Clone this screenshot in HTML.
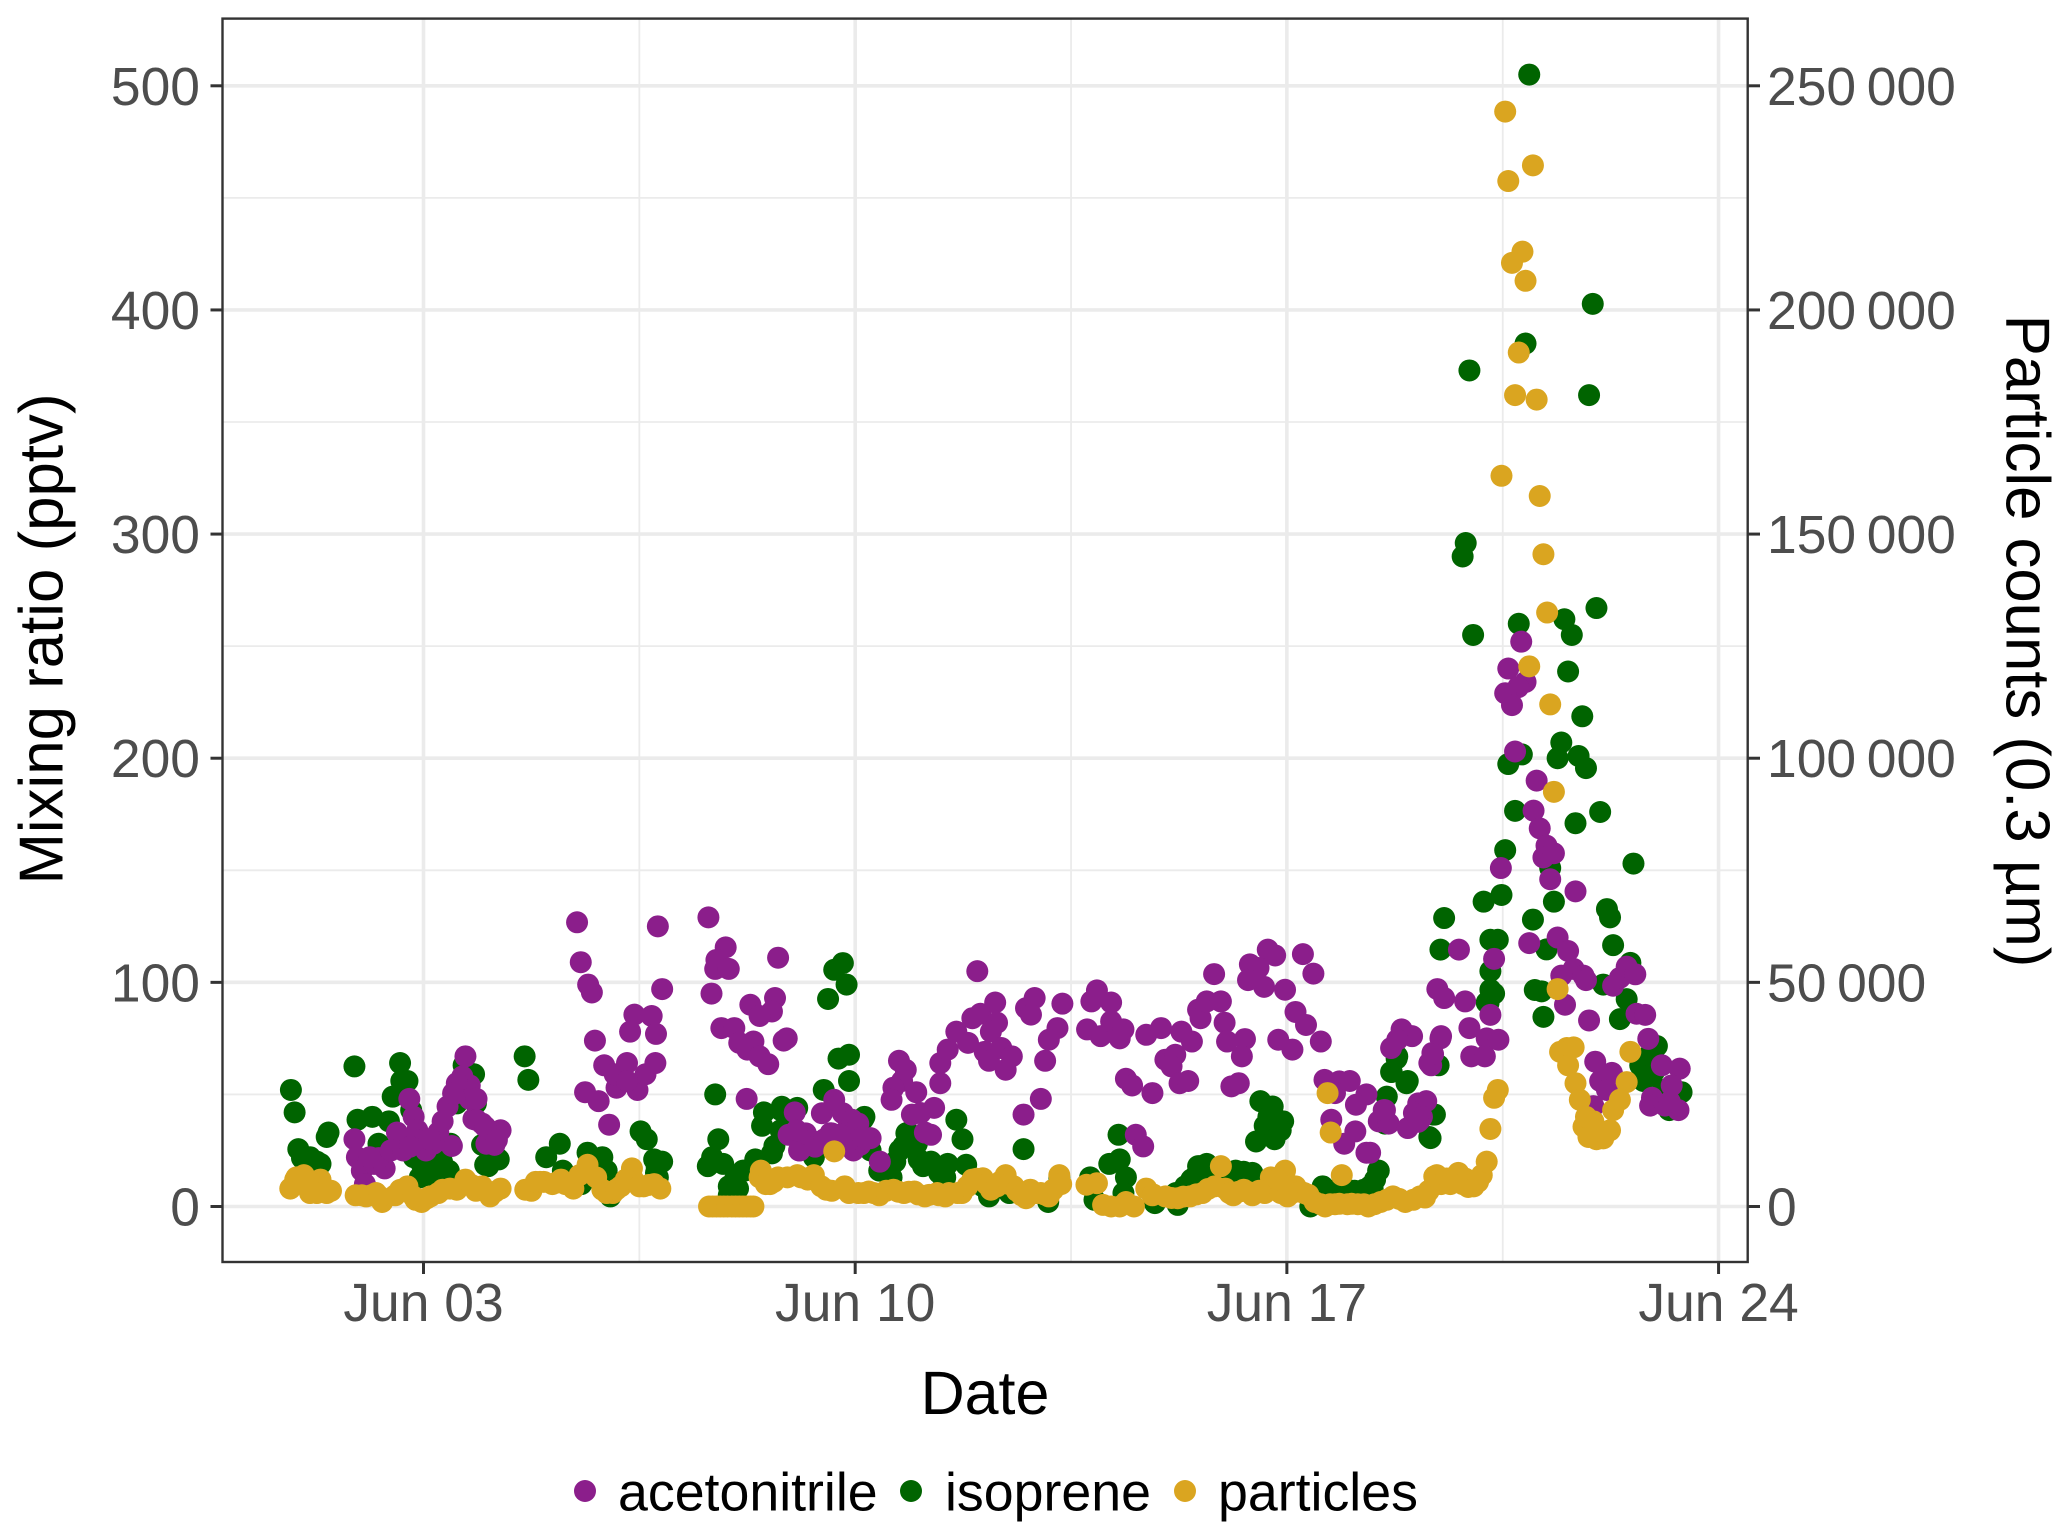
<!DOCTYPE html>
<html lang="en">
<head>
<meta charset="utf-8">
<title>Mixing ratio and particle counts</title>
<style>
html,body{margin:0;padding:0;background:#fff;}
svg{display:block;font-family:"Liberation Sans",Arial,sans-serif;}
</style>
</head>
<body>
<svg id="chart" xmlns="http://www.w3.org/2000/svg" width="2067" height="1539" viewBox="0 0 2067 1539">
<rect width="2067" height="1539" fill="#ffffff"/>
<g id="grid"></g>
<g id="series"></g>
<rect x="222.5" y="18.6" width="1525.2" height="1243.4" fill="none" stroke="#333333" stroke-width="2.4"/>
<g id="axes"></g>
<text x="985" y="1414" font-size="61" text-anchor="middle" fill="#000">Date</text>
<text transform="translate(62.7 639) rotate(-90)" font-size="61.8" text-anchor="middle" fill="#000">Mixing ratio (pptv)</text>
<text transform="translate(2006.6 641) rotate(90)" font-size="61.7" text-anchor="middle" fill="#000">Particle counts (0.3 µm)</text>
<g font-size="53.7" fill="#000">
<g><circle cx="585" cy="1491" r="11" fill="#8B1E8B"/><text x="618" y="1510.7">acetonitrile</text></g>
<g><circle cx="911" cy="1491" r="11" fill="#006400"/><text x="945" y="1510.7">isoprene</text></g>
<g><circle cx="1185" cy="1491" r="11" fill="#DAA520"/><text x="1218" y="1510.7">particles</text></g>
</g>
</svg>
<script>
// Axis tick data
const xTickDays = [3, 10, 17, 24];
const xTickLabels = ["Jun 03", "Jun 10", "Jun 17", "Jun 24"];
const xMinorDays = [6.5, 13.5, 20.5];
const yTickValues = [0, 100, 200, 300, 400, 500];
const yTickLabels = ["0", "100", "200", "300", "400", "500"];
const yMinorValues = [50, 150, 250, 350, 450];
const y2TickValues = [0, 50000, 100000, 150000, 200000, 250000];
const y2TickLabels = ["0", "50\u2009000", "100\u2009000", "150\u2009000", "200\u2009000", "250\u2009000"];

// Isoprene (pptv) by fractional day of June
const isopreneDays = [
0.85,0.91,0.97,1.03,1.16,1.33,1.19,1.43,1.46,1.10,
1.88,1.93,2.17,2.44,2.27,2.62,2.64,2.5,2.74,2.8,
2.84,2.97,2.94,3.14,3.34,3.41,3.44,3.65,3.82,3.85,3.54,
3.95,4.0,4.22,4.08,4.64,4.7,
4.99,5.21,5.26,5.66,5.9,5.97,6.03,6.52,6.62,6.87,6.74,6.77,5.56,
7.73,7.78,7.68,7.61,7.86,8.05,7.95,8.18,8.38,8.49,8.52,8.69,8.79,8.79,9.06,9.33,
9.49,9.66,9.8,9.86,9.56,9.73,9.9,9.9,
10.15,10.25,10.39,10.59,10.72,10.86,10.92,11.03,11.23,11.1,11.36,11.5,11.46,11.64,11.74,11.8,
12.07,12.17,12.5,12.73,12.9,13.13,13.31,
13.81,13.88,14.12,14.27,14.29,14.39,14.35,14.86,15.23,15.2,15.5,15.56,15.7,16.17,16.44,15.9,
16.57,16.77,16.94,16.64,16.5,16.8,16.9,16.7,
17.38,17.58,17.9,18.25,18.49,18.39,
18.69,18.62,18.96,18.79,19.4,19.33,18.59,19.46,19.49,19.55,20.19,20.3,20.3,20.3,20.27,
20.93,21.96,20.87,19.96,21.9,19.9,19.85,22.02,21.5,20.76,21.62,20.02,
21.56,21.79,21.45,21.39,21.73,21.85,20.81,20.59,20.7,21.68,22.08,
20.54,21.27,22.62,20.48,21.33,22.19,22.24,20.99,22.29,20.42,21.21,22.57,
20.36,20.24,21.02,21.13,22.13,21.16,22.51,22.4,
23.0,22.89,22.73,22.78,23.4,23.2,23.1,22.95,22.84,
19.37,19.31,18.48,18.35,18.1,18.7,18.78,18.94,
1.27,1.08,3.1,3.05,3.25,3.3,4.05,4.18,6.78,6.8,
7.95,8.1,8.21,8.4,8.65,8.81,8.86,10.13,10.65,10.78,10.83,11.0,11.32,11.43,
15.35,15.45,15.6,15.8,16.0,16.05,16.3,17.7,18.05,18.43
];
const isopreneValues = [
52,42,25.6,21.6,22,19,19,31,33,20,
62.5,38.7,40,38,28,64,56,49,56,43,
22,19,13,18,16,16,28,63,59,46,46,
27.5,18.6,21,27,67,56.5,
22,28,16,24,22,16,4.5,33.5,30,20,21,15,10,
50,30,22,18,19,12,9,16,21,36,42,27,34,43,44,22,
52,105.6,108.6,99,92.6,66,67.7,56,
40,25,16,13,25,33,28,21,20,18,15,19,13,38.7,30,18.6,
9,4.5,6,25.6,6,2,13,
13,3,19,32,21,13,6,1.5,0.7,6,13,18,19,16,15,17,
47,44.6,38,36,29,30,34,40,
0,9,7.5,7.5,16,8,
60,49,56,67,41,30.5,37,63,114.6,128.7,136,119,105,96.7,90.8,
505,402.7,385,373,362,296,290,267,262,260,255,255,
238.7,218.7,207,200,201,195.6,201.7,197.4,176.5,171,176,
159,151,153,139,136,132.7,129,128,116.6,119,114.7,108.7,
95,91,96.6,96,99,84.6,92.5,83.6,
71.6,68,63,56,51,43,52,60,58,
41,31,16,9,7,60,66,55,
20,21,17,14,15,20,18,22,18,13,
5,8,16,20,23.7,44.5,41.6,39,20,27,32.7,28,17,12.6,
9,12,18,15,12,15,15.5,7,7,12
];

// Acetonitrile (pptv) by fractional day of June
const acetonitrileDays = [
1.88,1.92,2.0,2.05,2.2,2.37,2.27,2.57,2.47,2.77,2.84,2.9,3.04,3.0,3.24,3.31,3.39,3.46,3.54,3.63,3.68,3.75,3.81,3.95,4.02,4.25,4.08,4.15,
5.49,5.55,5.67,5.73,5.78,5.93,5.62,5.84,6.01,6.13,6.1,6.3,6.47,6.6,6.42,6.7,6.35,6.77,6.76,6.8,6.87,6.3,
7.62,7.9,7.75,7.73,7.95,7.67,8.75,7.83,8.04,8.3,8.7,8.65,8.45,8.84,8.89,8.12,8.35,8.25,8.45,8.59,8.24,
9.02,8.92,9.09,9.46,9.66,9.8,9.6,9.26,9.86,
9.95,10.05,10.25,9.92,10.08,10.4,10.71,10.82,10.76,10.62,10.59,10.99,10.92,11.28,11.06,11.13,11.23,11.38,11.38,11.5,11.64,11.83,11.9,12.03,12.27,12.3,12.2,11.98,12.1,12.17,12.37,12.54,12.44,12.73,13.01,
12.77,12.91,12.85,13.36,13.28,13.14,13.08,
13.76,13.92,13.83,14.15,13.98,14.15,14.29,14.35,
14.39,14.49,14.82,14.72,14.96,15.29,15.46,15.03,15.19,15.13,15.26,15.4,14.55,14.67,
15.82,15.56,15.6,15.7,15.93,15.99,16.03,16.32,16.27,16.1,16.22,
16.69,16.81,16.4,16.54,16.37,16.63,16.97,17.26,17.43,17.14,17.31,17.55,16.86,17.09,
17.61,17.85,18.02,17.72,18.29,18.12,17.78,18.11,17.93,18.29,18.59,18.49,18.65,
18.86,19.03,18.79,18.69,19.5,19.36,19.31,19.13,19.26,18.96,19.16,19.06,
19.79,19.44,19.55,19.89,19.49,19.96,19.34,19.37,20.24,20.43,19.99,20.21,20.3,20.36,20.47,20.7,
20.8,20.59,20.87,20.75,20.54,20.65,21.05,21.0,21.1,21.21,21.16,21.33,21.27,21.68,21.39,20.93,21.56,21.65,21.45,21.81,21.85,21.51,21.9,
22.29,22.4,22.51,22.65,22.67,22.81,22.86,22.0,22.27,22.08,22.19,21.97,
23.08,23.37,23.24,22.92,22.89,23.13,23.35,23.21,
2.13,2.67,2.89,2.78,3.16,3.1,3.67,3.54,3.75,3.86,3.86,4.0,4.13,4.19,3.48,
9.1,9.2,9.35,9.62,9.97,9.92,10.13,9.05,9.75,9.5,
18.35,18.57,19.19,19.13
];
const acetonitrileValues = [
30,22,16,10,19,17,21.6,33,25,48,40,34,25,30,33,38,44.6,27,50.6,58,67,54,39,37,28,34,29,27.5,
126.8,109,99,95.5,74,63,51,47,36.5,53,59,64,52,59,85.6,85,78,77,64,125,97,56,
129,115.6,110,106,106,95,111,79.6,79.6,90,93,87,85,74,75,73,73.6,70,67,63.5,48,
42,32,25,41.6,47.6,41.6,32.7,30,34,
38.7,37,30.5,27,27.5,20,65,61,56,53,47.6,51,41,44,41.7,33,32,55,64,70,78,73,84,86,91,82,78,105,69,65,70.7,67,61,41,48,
88.5,93,85.6,90.5,79.6,74.4,65,
79,96.4,91.5,91,76,82.6,75,79,
57,54,50.6,76.6,79.6,78,73.6,65.5,67.7,62.5,55,56,32,26.8,
103.7,87.8,84,91.5,91.5,82,73.6,74.7,67,53.6,55,
114.6,112,108,106.4,101,98,96.7,112.6,103.9,86.8,81,73.6,74.4,70,
56.5,55.8,56,38.7,50,45.4,50.6,33.5,28,24,43,38,37,
79,76,74.4,70.7,76,68.5,64,46,47,35,38.7,41.7,
114.6,97,93,91.5,75,79.6,63,68,75,74.4,67,67,85.5,110.5,151,203,
252,240,234,231.7,229,223.7,190,176.6,168.7,161,155.7,157.6,146,140.6,120,117.5,114,106,103,103,101,90,83,
98.5,102,107,103.6,86,85.5,74.8,64.6,59.6,56,52,44.8,
63,61.5,54,48.5,45,45,43,46.7,
22,25,29.7,26.7,28,30,52,55,48,48,38.6,35.6,28,29.7,50.5,
25,32.6,26.7,32.6,25,29.7,31,34,32,30,
24,43,40,37.8
];

// Particle counts (0.3 um) by fractional day of June
const particleDays = [
0.84,0.94,1.06,1.16,1.33,1.43,1.5,1.0,1.25,
1.9,2.07,2.23,2.33,2.54,2.74,2.87,2.97,3.11,3.31,3.54,3.68,3.85,3.95,4.08,4.25,
4.65,4.75,4.89,5.09,5.23,5.43,5.53,5.66,5.8,5.9,6.07,6.2,6.38,6.4,6.57,6.74,6.84,
7.63,7.75,7.87,8.0,8.12,8.24,8.35,
8.47,8.45,8.62,8.75,9.06,9.23,9.33,9.53,9.66,9.83,
10.05,10.22,10.39,10.62,10.79,10.96,11.13,11.33,11.46,11.73,11.9,12.07,12.2,12.44,12.57,12.77,12.84,13.01,13.14,13.21,13.31,13.34,
13.75,13.92,14.02,14.15,14.29,14.52,14.39,14.72,14.82,15.03,15.23,15.43,15.63,15.83,15.93,16.0,16.13,16.3,16.44,16.64,16.74,16.97,17.01,16.9,17.14,17.28,17.45,17.62,
17.66,17.71,17.89,17.78,17.98,18.15,18.32,18.52,18.72,
18.92,19.16,19.24,19.39,19.43,19.59,19.78,19.89,19.94,20.05,20.16,20.24,20.3,20.36,20.42,
20.54,20.99,20.59,20.82,20.65,20.87,20.76,20.7,21.05,20.48,21.1,21.16,21.22,20.93,21.27,21.33,21.39,
21.54,21.65,21.43,21.56,21.68,21.75,21.86,21.97,21.81,21.89,22.02,22.13,22.24,22.29,22.4,22.51,22.57,21.85,22.0,
0.92,1.08,1.32,1.27,
2.0,2.15,2.29,2.62,2.84,3.05,3.24,3.43,3.78,4.16,
4.82,4.95,5.15,5.3,5.97,6.13,6.28,6.5,6.65,
7.69,7.81,7.93,8.06,8.18,8.3,
8.55,8.68,8.9,9.12,9.45,9.62,9.9,10.14,10.3,10.5,10.7,10.87,11.02,11.2,11.36,11.52,11.66,11.82,11.97,12.13,12.3,12.35,12.5,12.62,12.7,12.93,13.07,
14.83,15.13,15.32,15.53,15.72,16.07,16.22,16.38,16.55,16.85,17.08,17.22,17.35,17.55,17.7,17.85,18.05,18.25,18.42,18.62,18.82,19.05,19.3,19.5,19.65,19.7,19.85,20.03,20.1
];
const particleValues = [
4000,6500,7000,3000,6000,3000,3500,6500,5000,
2500,2250,3000,1000,2500,4500,1500,1000,2250,3750,3750,6000,3500,4500,2250,4000,
3750,3500,5500,5000,6000,4000,7000,9300,6500,3750,3000,4500,8500,6000,4500,5000,4000,
0,0,0,0,0,0,0,
8000,6500,5000,6500,7000,6000,7000,3750,12300,4500,
3000,3350,2500,3750,3000,3350,2250,3000,2250,3000,6000,6300,3750,7000,4500,1850,3750,3000,2250,3750,7000,5000,
4850,5200,350,0,0,0,1000,4000,2500,2250,1850,2250,3000,4500,9000,4000,2500,3750,2500,3000,6500,8000,2250,3000,4500,3000,1000,0,
25300,16500,7000,500,500,500,0,1000,2250,
1000,2250,2000,6700,7000,6250,7500,6250,4350,5300,7000,10000,17300,24250,26000,
244250,232250,228750,213000,210500,206500,190500,181000,180000,163000,158500,145500,132500,120500,112000,92500,48500,
35350,35500,34500,31500,27500,23800,18500,19000,17800,15500,15000,15200,17000,21500,23800,27750,34500,20000,17000,
6000,6500,5000,3000,
2500,2500,2200,3700,2200,1800,3000,4000,4800,3300,
5500,5500,5300,5000,3000,3800,6000,4500,4800,
0,0,0,0,0,0,
5000,5500,6500,6500,4500,3500,3000,3000,3000,3500,3300,3300,2700,2600,2500,3000,3000,4500,6200,5000,4500,5500,5000,3500,2500,3000,2700,
2700,1900,2200,2700,3900,3000,3300,3200,3500,6000,3000,3300,2600,500,500,600,600,500,500,1500,1700,1500,3500,5000,5000,6500,5000,4500,5500
];

const SVGNS = "http://www.w3.org/2000/svg";
const POINT_RADIUS = 11;

function xScale(day) { return 423.5 + (day - 3) * 61.67; }
function yScale(value) { return 1206.5 - value * 2.2414; }
function y2Scale(count) { return 1206.5 - (count / 500) * 2.2414; }

function makeLine(parent, x1, y1, x2, y2, stroke, width) {
  const line = document.createElementNS(SVGNS, "line");
  line.setAttribute("x1", x1);
  line.setAttribute("y1", y1);
  line.setAttribute("x2", x2);
  line.setAttribute("y2", y2);
  line.setAttribute("stroke", stroke);
  line.setAttribute("stroke-width", width);
  parent.appendChild(line);
  return line;
}

function makeText(parent, x, y, content, anchor) {
  const t = document.createElementNS(SVGNS, "text");
  t.setAttribute("x", x);
  t.setAttribute("y", y);
  t.setAttribute("font-size", "53.4");
  t.setAttribute("fill", "#4D4D4D");
  t.setAttribute("text-anchor", anchor);
  t.textContent = content;
  parent.appendChild(t);
  return t;
}

const gridGroup = document.getElementById("grid");
const axesGroup = document.getElementById("axes");
const seriesGroup = document.getElementById("series");

yMinorValues.forEach(function (v) {
  const g = makeLine(gridGroup, 222, yScale(v), 1748, yScale(v), "#EBEBEB", 1.8);
  
  
});
xMinorDays.forEach(function (d) {
  const g = makeLine(gridGroup, xScale(d), 18, xScale(d), 1262, "#EBEBEB", 1.8);
  
  
});
yTickValues.forEach(function (v) {
  const g = makeLine(gridGroup, 222, yScale(v), 1748, yScale(v), "#EBEBEB", 3.6);
  
  
});
xTickDays.forEach(function (d) {
  const g = makeLine(gridGroup, xScale(d), 18, xScale(d), 1262, "#EBEBEB", 3.6);
  
  
});

xTickDays.forEach(function (d, i) {
  const tick = makeLine(axesGroup, xScale(d), 1262, xScale(d), 1274, "#333333", 3);
  
  
  const label = makeText(axesGroup, xScale(d), 1321, xTickLabels[i], "middle");
  
  
});
yTickValues.forEach(function (v, i) {
  const tick = makeLine(axesGroup, 210.5, yScale(v), 222, yScale(v), "#333333", 3);
  
  
  const label = makeText(axesGroup, 200, yScale(v) + 19, yTickLabels[i], "end");
  
  
});
y2TickValues.forEach(function (c, i) {
  const tick = makeLine(axesGroup, 1748, y2Scale(c), 1760, y2Scale(c), "#333333", 3);
  
  
  const label = makeText(axesGroup, 1767, y2Scale(c) + 19, y2TickLabels[i], "start");
  
  
});

function drawPoints(days, values, scale, color, name) {
  const group = document.createElementNS(SVGNS, "g");
  
  
  group.setAttribute("fill", color);
  days.forEach(function (d, i) {
    const c = document.createElementNS(SVGNS, "circle");
    c.setAttribute("cx", xScale(d).toFixed(2));
    c.setAttribute("cy", scale(values[i]).toFixed(2));
    c.setAttribute("r", POINT_RADIUS);
    
    
    group.appendChild(c);
  });
  seriesGroup.appendChild(group);
}

drawPoints(isopreneDays, isopreneValues, yScale, "#006400", "isoprene");
drawPoints(acetonitrileDays, acetonitrileValues, yScale, "#8B1E8B", "acetonitrile");
drawPoints(particleDays, particleValues, y2Scale, "#DAA520", "particles");
</script>
</body>
</html>
